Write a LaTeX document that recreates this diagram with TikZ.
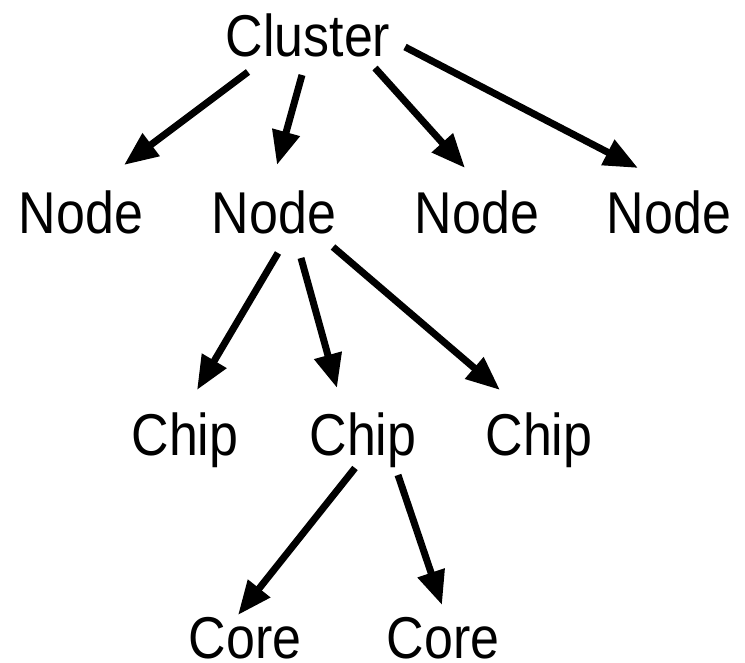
\documentclass[tikz,border=0pt]{standalone}
\usepackage{fontspec}
\setmainfont{Liberation Sans}[FakeStretch=0.88]
\usetikzlibrary{arrows.meta}
\begin{document}
\begin{tikzpicture}[x=1pt,y=-1pt,
  lbl/.style={anchor=base,inner sep=0pt,font=\fontsize{59}{60}\selectfont},
  arr/.style={line width=7pt,-{Triangle[length=34pt,width=27pt]}}]
\useasboundingbox (0,0) rectangle (745,663);
\node[lbl] (cl) at (308,57) {Cluster};
\node[lbl] (n1) at (81,234) {Node};
\node[lbl] (n2) at (274,234) {Node};
\node[lbl] (n3) at (477,234) {Node};
\node[lbl] (n4) at (669,234) {Node};
\node[lbl] (c1) at (185,455) {Chip};
\node[lbl] (c2) at (363,455) {Chip};
\node[lbl] (c3) at (539,455) {Chip};
\node[lbl] (k1) at (245,658) {Core};
\node[lbl] (k2) at (443,658) {Core};
\draw[arr] ([shift={(-60,15)}]cl.base) -- ([shift={(43,-69)}]n1.base);
\draw[arr] ([shift={(-6,18)}]cl.base) -- ([shift={(3,-69)}]n2.base);
\draw[arr] ([shift={(67,11)}]cl.base) -- ([shift={(-12,-66)}]n3.base);
\draw[arr] ([shift={(97,-10)}]cl.base) -- ([shift={(-31,-66)}]n4.base);
\draw[arr] ([shift={(4,19)}]n2.base) -- ([shift={(12,-65)}]c1.base);
\draw[arr] ([shift={(27,24)}]n2.base) -- ([shift={(-26,-67)}]c2.base);
\draw[arr] ([shift={(59,13)}]n2.base) -- ([shift={(-39,-65)}]c3.base);
\draw[arr] ([shift={(-8,13)}]c2.base) -- ([shift={(-7,-43)}]k1.base);
\draw[arr] ([shift={(35,20)}]c2.base) -- ([shift={(-1,-53)}]k2.base);
\end{tikzpicture}
\end{document}
